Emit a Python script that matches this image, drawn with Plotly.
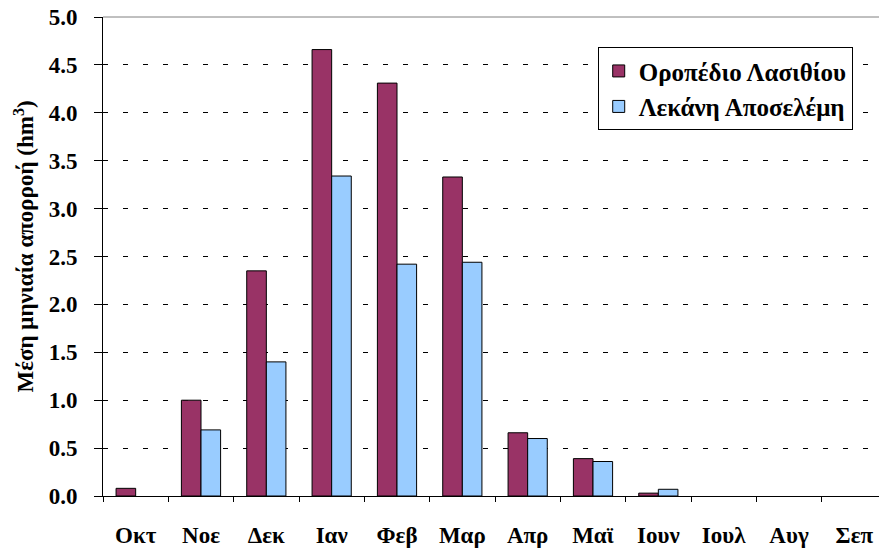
"""Mean monthly runoff: Lasithi plateau vs Aposelemis basin."""

import plotly.graph_objects as go

months = ['Οκτ', 'Νοε', 'Δεκ', 'Ιαν', 'Φεβ', 'Μαρ',
          'Απρ', 'Μαϊ', 'Ιουν', 'Ιουλ', 'Αυγ', 'Σεπ']
# months with no visible bar are left empty
lasithi = [0.08, 1.00, 2.35, 4.66, 4.31, 3.33, 0.66, 0.39, 0.03, None, None, None]
aposelemis = [None, 0.69, 1.40, 3.34, 2.42, 2.44, 0.60, 0.36, 0.07, None, None, None]

font_family = 'Liberation Serif'

fig = go.Figure()
fig.add_trace(go.Bar(
    x=months,
    y=lasithi,
    name='<b>Οροπέδιο Λασιθίου</b>',
    marker=dict(color='#993366', line=dict(color='black', width=1))
))
fig.add_trace(go.Bar(
    x=months,
    y=aposelemis,
    name='<b>Λεκάνη Αποσελέμη</b>',
    marker=dict(color='#99CCFF', line=dict(color='black', width=1))
))
# grey frame line along the top of the plot area
fig.add_shape(type='line', xref='paper', yref='paper',
              x0=0, x1=1, y0=1, y1=1,
              line=dict(color='#808080', width=1))

# y-axis title as a rotated annotation so its position can be set directly
fig.add_annotation(
    text='<b>Μέση μηνιαία απορροή (hm<sup>3</sup>)</b>',
    xref='paper', yref='paper', x=-0.1, y=0.52,
    xanchor='center', yanchor='middle', textangle=-90,
    showarrow=False,
    font=dict(family=font_family, size=23, color='black'),
)

# the page body adds an 8px margin, so the figure is 8px smaller
fig.update_layout(
    width=879,
    height=543,
    margin=dict(l=95, r=0, t=9, b=55),
    paper_bgcolor='white',
    plot_bgcolor='white',
    barmode='group',
    bargap=0.4,
    bargroupgap=0,
    font=dict(family=font_family, size=23, color='black'),
    legend=dict(
        x=0.631, y=0.937, xanchor='left', yanchor='top',
        bordercolor='black', borderwidth=1, bgcolor='white',
        font=dict(family=font_family, size=25, color='black'),
    ),
    xaxis=dict(
        automargin=False,
        showline=True, linecolor='black', linewidth=1,
        ticks='outside', tickson='boundaries', ticklen=5, tickcolor='black',
        tickfont=dict(family=font_family, size=23, weight='bold'),
        ticklabelstandoff=18,
        showgrid=False,
    ),
    yaxis=dict(
        automargin=False,
        range=[0, 5], dtick=0.5, tickformat='.1f',
        showline=True, linecolor='black', linewidth=1,
        ticks='outside', ticklen=8, tickcolor='black',
        tickfont=dict(family=font_family, size=23, weight='bold'),
        ticklabelstandoff=12,
        ticklabeloverflow='allow',
        showgrid=True, gridcolor='black', gridwidth=1, griddash='5px,15px',
        zeroline=False,
    ),
)

fig.write_html("out.html")
